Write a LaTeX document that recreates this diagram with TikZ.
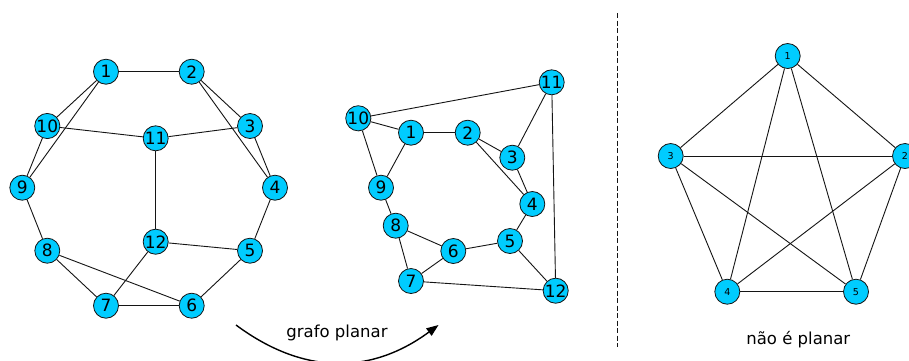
\documentclass[tikz,border=0pt]{standalone}
\usepackage{fontspec}
\setmainfont{DejaVu Sans}
\usetikzlibrary{arrows.meta}
\definecolor{vfill}{RGB}{0,204,255}
\definecolor{vline}{RGB}{20,20,20}
\begin{document}
\begin{tikzpicture}[x=1pt,y=-1pt,
  vert/.style={circle,draw=vline,fill=vfill,line width=0.8pt,minimum size=25pt,inner sep=0pt,
    font=\fontsize{17}{17}\selectfont},
  vsmall/.style={vert,font=\fontsize{9.5}{9.5}\selectfont},
  edge/.style={draw=vline,line width=0.9pt},
  caption/.style={font=\fontsize{16.5}{16.5}\selectfont,text=black}]
\clip (0,0) rectangle (909,360);
\fill[white] (0,0) rectangle (909,360);

% first drawing of the 12-vertex graph
\node[vert] (a1)  at (106,71.7)  {1};
\node[vert] (a2)  at (191.7,71.7) {2};
\node[vert] (a10) at (47.3,126)  {10};
\node[vert] (a11) at (155.7,138.3) {11};
\node[vert] (a3)  at (250,126)   {3};
\node[vert] (a9)  at (22.3,187.7) {9};
\node[vert] (a4)  at (275,187.7) {4};
\node[vert] (a8)  at (47.3,250.7) {8};
\node[vert] (a12) at (155.7,241.7) {12};
\node[vert] (a5)  at (250,250.7) {5};
\node[vert] (a7)  at (106,305.7) {7};
\node[vert] (a6)  at (191.7,305.7) {6};
\foreach \u/\v in {a1/a2,a1/a10,a1/a9,a2/a3,a2/a4,a3/a4,a10/a11,a11/a3,a10/a9,a9/a8,
  a11/a12,a12/a5,a4/a5,a8/a7,a8/a6,a7/a6,a12/a7,a5/a6}
  \draw[edge] (\u) -- (\v);

% the same graph redrawn without crossings
\node[vert] (b11) at (551.7,82.3) {11};
\node[vert] (b10) at (358.3,118.3) {10};
\node[vert] (b1)  at (411,132.7) {1};
\node[vert] (b2)  at (467.7,132.7) {2};
\node[vert] (b3)  at (512.3,157.7) {3};
\node[vert] (b9)  at (381,187.7) {9};
\node[vert] (b4)  at (532.3,204) {4};
\node[vert] (b8)  at (395.7,225.7) {8};
\node[vert] (b5)  at (510,241) {5};
\node[vert] (b6)  at (453.3,251) {6};
\node[vert] (b7)  at (411,281) {7};
\node[vert] (b12) at (555.7,290.7) {12};
\foreach \u/\v in {b10/b11,b10/b1,b10/b9,b1/b2,b1/b9,b2/b3,b2/b4,b3/b4,b3/b11,b11/b12,
  b9/b8,b8/b6,b8/b7,b6/b7,b6/b5,b5/b4,b5/b12,b7/b12}
  \draw[edge] (\u) -- (\v);

% curved arrow with its caption
\coordinate (as) at (236,325);
\coordinate (ae) at (438.5,325);
\draw[line width=1.4pt,-{Triangle[length=12pt,width=9pt]}]
  (as) .. controls (303.3,375) and (370.7,375) .. (ae);
\node[caption] (lbl1) at (337,333) {grafo planar};

% separator
\coordinate (st) at (617,13);
\coordinate (sb) at (617,347);
\draw[vline,line width=0.9pt,dash pattern=on 5pt off 2.5pt] (st) -- (sb);

% complete graph K5
\node[vsmall] (c1) at (787.7,56)   {1};
\node[vsmall] (c3) at (670.7,156)  {3};
\node[vsmall] (c2) at (905,156)    {2};
\node[vsmall] (c4) at (727.3,291.7) {4};
\node[vsmall] (c5) at (856,291.7)  {5};
\foreach \u/\v in {c1/c3,c1/c2,c1/c4,c1/c5,c3/c2,c3/c4,c3/c5,c2/c4,c2/c5,c4/c5}
  \draw[edge] (\u) -- (\v);
\node[caption] (lbl2) at (798.3,340) {não é planar};
\end{tikzpicture}
\end{document}
